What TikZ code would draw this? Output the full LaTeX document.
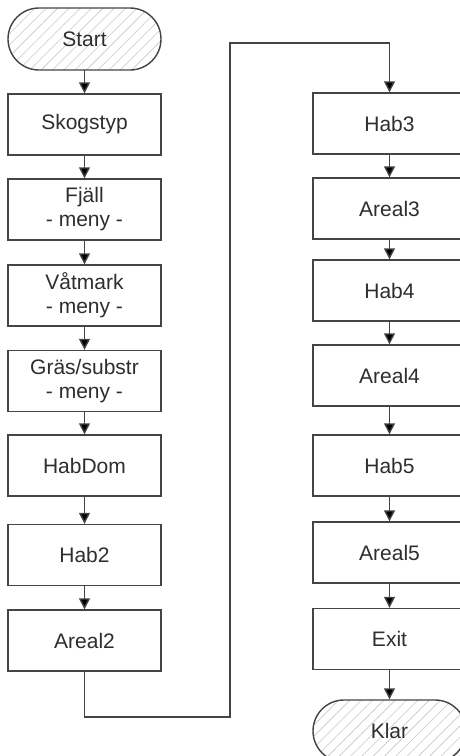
\documentclass[tikz,border=0pt]{standalone}
\usepackage{fontspec}
\setmainfont{Liberation Sans}
\usetikzlibrary{arrows.meta,patterns.meta}
\definecolor{edge}{HTML}{444444}
\definecolor{txt}{HTML}{2E2E2E}
\definecolor{hatch}{HTML}{C8C8C8}
\tikzset{
  box/.style={draw=edge, line width=1.4pt, minimum width=153pt, minimum height=61pt,
    inner sep=0pt, align=center, text=txt, font=\fontsize{21}{24}\selectfont, fill=white},
  term/.style={box, minimum height=62pt, rounded corners=31pt,
    pattern={Lines[angle=45,distance=8pt,line width=0.6pt]}, pattern color=hatch},
  flow/.style={draw=edge, line width=1.4pt, -{Triangle[length=11pt,width=11pt,fill=black]}},
  link/.style={draw=edge, line width=1.4pt}
}
\begin{document}
\begin{tikzpicture}[x=1pt,y=-1pt]
\clip (0,0) rectangle (460,756);
\fill[white] (0,0) rectangle (460,756);
% left column
\node[term] (start) at (84.5,39) {Start};
\node[box] (skog) at (84.5,124.5) {Skogstyp};
\node[box] (fjall) at (84.5,209.5) {Fjäll\\- meny -};
\node[box] (vat) at (84.5,295.5) {Våtmark\\- meny -};
\node[box] (gras) at (84.5,381) {Gräs/substr\\- meny -};
\node[box] (habdom) at (84.5,465.5) {HabDom};
\node[box] (hab2) at (84.5,555) {Hab2};
\node[box] (areal2) at (84.5,640.5) {Areal2};
% right column
\node[box] (hab3) at (389.5,123.5) {Hab3};
\node[box] (areal3) at (389.5,208.5) {Areal3};
\node[box] (hab4) at (389.5,290.5) {Hab4};
\node[box] (areal4) at (389.5,375.5) {Areal4};
\node[box] (hab5) at (389.5,465.5) {Hab5};
\node[box] (areal5) at (389.5,552.5) {Areal5};
\node[box] (exit) at (389.5,639) {Exit};
\node[term] (klar) at (389.5,731) {Klar};
% connectors
\draw[flow] (start) -- (skog);
\draw[flow] (skog) -- (fjall);
\draw[flow] (fjall) -- (vat);
\draw[flow] (vat) -- (gras);
\draw[flow] (gras) -- (habdom);
\draw[flow] (habdom) -- (hab2);
\draw[flow] (hab2) -- (areal2);
\coordinate (c1) at (84.5,717);
\coordinate (c2) at (230,717);
\coordinate (c3) at (230,43);
\coordinate (c4) at (389.5,43);
\draw[flow] (areal2.south) -- (c1) -- (c2) -- (c3) -- (c4) -- (hab3.north);
\draw[flow] (hab3) -- (areal3);
\draw[flow] (areal3) -- (hab4);
\draw[flow] (hab4) -- (areal4);
\draw[flow] (areal4) -- (hab5);
\draw[flow] (hab5) -- (areal5);
\draw[flow] (areal5) -- (exit);
\draw[flow] (exit) -- (klar);
\end{tikzpicture}
\end{document}
